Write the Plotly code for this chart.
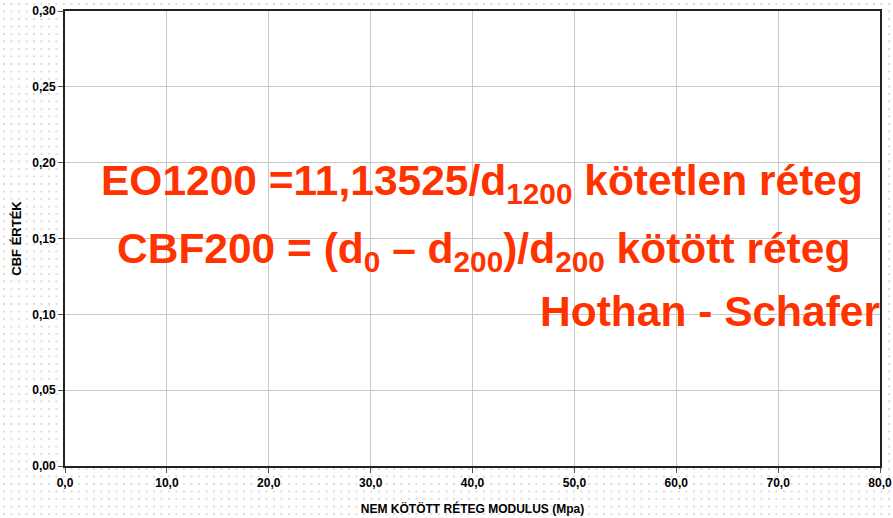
import base64
import plotly.graph_objects as go

# ---- data (the chart holds no series, only axes and annotations) ----
x_ticks = [0, 10, 20, 30, 40, 50, 60, 70, 80]
x_tick_labels = ["0,0", "10,0", "20,0", "30,0", "40,0", "50,0", "60,0", "70,0", "80,0"]
y_ticks = [0.00, 0.05, 0.10, 0.15, 0.20, 0.25, 0.30]
y_tick_labels = ["0,00", "0,05", "0,10", "0,15", "0,20", "0,25", "0,30"]
x_title = "NEM KÖTÖTT RÉTEG MODULUS (Mpa)"
y_title = "CBF ÉRTÉK"
note_lines = [
    "EO1200 =11,13525/d<sub>1200</sub> kötetlen réteg",
    "CBF200 = (d<sub>0</sub> – d<sub>200</sub>)/d<sub>200</sub> kötött réteg",
    "Hothan - Schafer",
]

W, H = 893, 518
ML, MR, MT, MB = 65, 13, 11, 52
PW, PH = W - ML - MR, H - MT - MB
FONT = "Liberation Sans, Arial, sans-serif"

# dotted background pattern
svg = (
    f'<svg xmlns="http://www.w3.org/2000/svg" width="{W}" height="{H}">'
    '<defs><pattern id="p" x="3" y="3" width="7.5" height="7.5" patternUnits="userSpaceOnUse">'
    '<rect x="0" y="0" width="2" height="2" fill="#dcdcdc"/></pattern></defs>'
    f'<rect width="{W}" height="{H}" fill="#ffffff"/>'
    f'<rect width="{W}" height="{H}" fill="url(#p)"/>'
    '</svg>'
)
src = "data:image/svg+xml;base64," + base64.b64encode(svg.encode()).decode()

fig = go.Figure()
fig.add_trace(go.Scatter(x=[], y=[], mode="markers", showlegend=False))

red = "#ff3300"
ann_font = dict(family=FONT, size=42.5, color=red)

fig.update_layout(
    width=W, height=H,
    margin=dict(l=ML, r=MR, t=MT, b=MB, pad=0, autoexpand=False),
    paper_bgcolor="white",
    plot_bgcolor="rgba(0,0,0,0)",
    showlegend=False,
    font=dict(family=FONT, color="black"),
    images=[dict(
        source=src, xref="paper", yref="paper",
        x=-ML / PW, y=1 + MT / PH, sizex=W / PW, sizey=H / PH,
        xanchor="left", yanchor="top", sizing="stretch", layer="below",
    )],
    shapes=[dict(
        type="rect", xref="paper", yref="paper", x0=0, x1=1, y0=0, y1=1,
        fillcolor="white", line=dict(width=0), layer="below",
    )],
    xaxis=dict(
        range=[x_ticks[0], x_ticks[-1]], tickvals=x_ticks,
        ticktext=[f"<b>{t}</b>" for t in x_tick_labels],
        showgrid=True, gridcolor="#c8c8c8", gridwidth=1,
        showline=True, linecolor="#222222", linewidth=2, mirror=True,
        ticks="outside", ticklen=5, tickcolor="#555555",
        tickfont=dict(size=12, family=FONT),
        title=dict(text=f"<b>{x_title}</b>", font=dict(size=12, family=FONT), standoff=15),
        zeroline=False, fixedrange=True, automargin=False,
    ),
    yaxis=dict(
        range=[y_ticks[0], y_ticks[-1]], tickvals=y_ticks,
        ticktext=[f"<b>{t}</b>" for t in y_tick_labels],
        showgrid=True, gridcolor="#c8c8c8", gridwidth=1,
        showline=True, linecolor="#222222", linewidth=2, mirror=True,
        ticks="outside", ticklen=5, tickcolor="#555555",
        tickfont=dict(size=12, family=FONT),
        title=dict(text=f"<b>{y_title}</b>", font=dict(size=13, family=FONT), standoff=8),
        zeroline=False, fixedrange=True, automargin=False,
    ),
    annotations=[
        dict(text=f"<b>{note_lines[0]}</b>", xref="paper", yref="paper",
             x=(482 - ML) / PW, y=(H - MB - 183) / PH, xanchor="center", yanchor="middle",
             showarrow=False, font=ann_font),
        dict(text=f"<b>{note_lines[1]}</b>", xref="paper", yref="paper",
             x=(483 - ML) / PW, y=(H - MB - 251) / PH, xanchor="center", yanchor="middle",
             showarrow=False, font=ann_font),
        dict(text=f"<b>{note_lines[2]}</b>", xref="paper", yref="paper",
             x=(882 - ML) / PW, y=(H - MB - 311) / PH, xanchor="right", yanchor="middle",
             showarrow=False, font=ann_font),
    ],
)

fig.write_html(
    "out.html",
    config={"displayModeBar": False},
    post_script="document.body.style.margin='0';document.body.style.overflow='hidden';",
)
